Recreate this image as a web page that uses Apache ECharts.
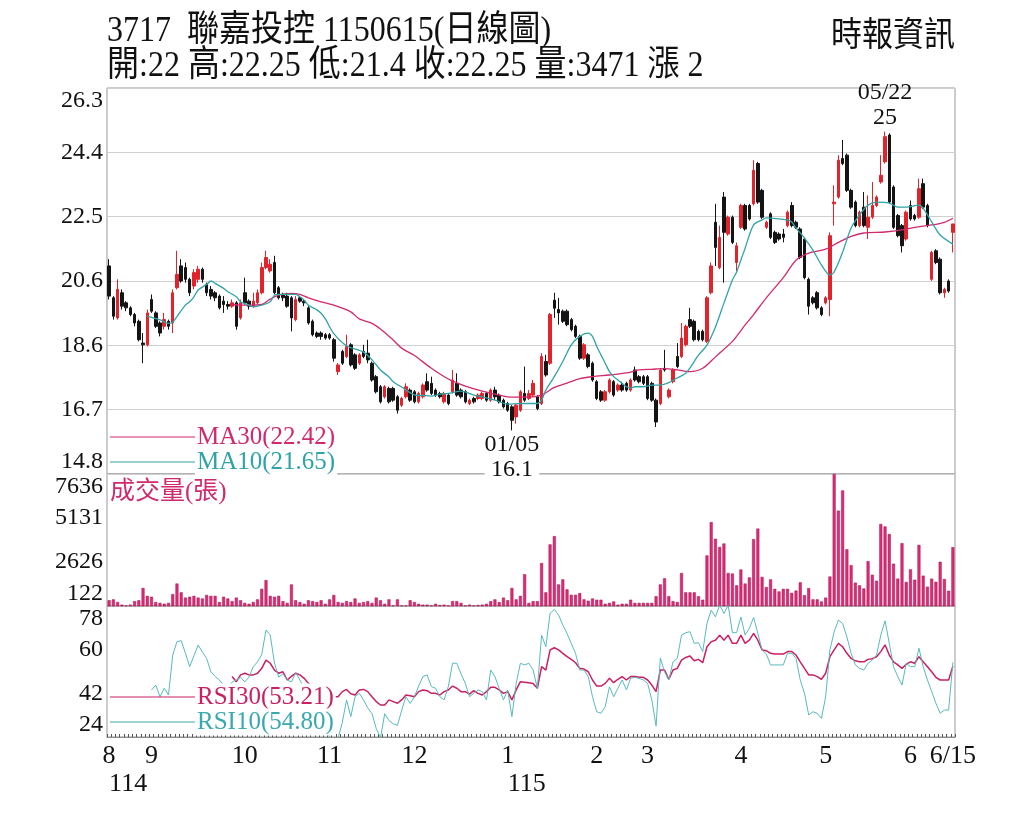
<!DOCTYPE html>
<html>
<head>
<meta charset="utf-8">
<script src="https://cdn.jsdelivr.net/npm/echarts@6.0.0/dist/echarts.min.js"></script>
<style>
  html, body { margin: 0; padding: 0; background: #fff; }
  #chart { width: 1024px; height: 819px; }
</style>
</head>
<body>
<div id="chart"></div>
<script>
// trading days shown, 114/08/18 .. 115/06/15
const dayCount = 200
const categories = Array.from({ length: dayCount }, (_, i) => String(i))

// [index, label] for the bottom axis
const monthLabels = [[0, '8'], [10, '9'], [32, '10'], [52, '11'], [72, '12'], [94, '1'],
  [115, '2'], [127, '3'], [149, '4'], [169, '5'], [189, '6'], [199, '6/15']]
const yearLabels = [[0, '114'], [94, '115']]

const priceTicks = ['14.8', '16.7', '18.6', '20.6', '22.5', '24.4', '26.3']
const volumeTicks = ['122', '2626', '5131', '7636']
const rsiTicks = ['24', '42', '60', '78']

// [open, close, low, high]
const ohlc = [
  [21.0, 20.1, 20.0, 21.2], [20.05, 19.5, 19.4, 20.1], [19.45, 20.3, 19.4, 20.6], [20.2, 19.8, 19.7, 20.3],
  [19.9, 19.75, 19.65, 19.95], [19.75, 19.55, 19.5, 19.8], [19.55, 19.3, 19.2, 19.6], [19.35, 18.8, 18.75, 19.4],
  [18.7, 18.65, 18.1, 19.0], [18.65, 19.6, 18.6, 19.7], [20.0, 19.65, 19.6, 20.15], [19.6, 19.2, 19.15, 19.65],
  [19.3, 19.0, 18.9, 19.35], [19.2, 19.4, 19.1, 19.6], [19.35, 19.2, 19.1, 19.4], [19.3, 20.2, 19.0, 20.3],
  [20.35, 20.75, 20.3, 21.45], [21.0, 20.55, 20.5, 21.2], [20.95, 20.6, 20.5, 21.1], [20.6, 20.2, 20.1, 20.65],
  [20.4, 20.8, 20.3, 20.9], [20.6, 20.9, 20.5, 21.0], [20.9, 20.6, 20.5, 20.95], [20.45, 20.2, 20.1, 20.5],
  [20.3, 20.1, 20.0, 20.4], [20.2, 20.05, 19.95, 20.25], [20.1, 19.75, 19.7, 20.15], [19.95, 19.85, 19.6, 20.1],
  [19.85, 19.8, 19.7, 19.95], [19.8, 19.9, 19.75, 20.0], [19.9, 19.2, 19.1, 19.95], [19.45, 19.9, 19.4, 20.0],
  [20.2, 19.9, 19.85, 20.65], [19.95, 19.8, 19.7, 20.0], [19.8, 19.95, 19.75, 20.2], [19.9, 20.2, 19.85, 20.3],
  [20.2, 20.95, 20.15, 21.1], [20.95, 21.25, 20.9, 21.45], [20.85, 21.05, 20.8, 21.2], [21.1, 20.2, 20.15, 21.3],
  [20.35, 20.05, 20.0, 20.4], [20.15, 20.05, 19.95, 20.2], [20.1, 19.8, 19.75, 20.2], [20.05, 19.45, 19.05, 20.1],
  [19.4, 20.0, 19.35, 20.1], [20.05, 19.95, 19.9, 20.1], [19.95, 19.9, 19.8, 20.0], [19.75, 19.3, 19.25, 19.8],
  [19.35, 18.95, 18.9, 19.4], [19.0, 18.9, 18.85, 19.05], [19.0, 18.9, 18.8, 19.05], [18.95, 18.85, 18.8, 19.0],
  [18.95, 18.85, 18.8, 19.0], [18.8, 18.25, 18.15, 18.85], [17.85, 18.05, 17.75, 18.1], [18.45, 18.1, 18.05, 18.5],
  [18.3, 18.6, 18.25, 18.95], [18.65, 18.05, 18.0, 18.7], [18.35, 17.95, 17.9, 18.4], [18.1, 18.35, 18.05, 18.4],
  [18.45, 18.3, 18.25, 18.65], [18.4, 18.2, 18.1, 18.8], [18.1, 17.6, 17.55, 18.15], [17.7, 17.25, 17.2, 17.75],
  [17.4, 16.95, 16.9, 17.45], [17.1, 17.4, 17.05, 17.45], [17.35, 16.95, 16.9, 17.4], [17.35, 17.0, 16.95, 17.4],
  [17.1, 16.7, 16.6, 17.15], [16.85, 17.05, 16.8, 17.1], [17.1, 17.4, 17.05, 17.5], [17.3, 17.0, 16.95, 17.35],
  [17.25, 16.95, 16.9, 17.3], [16.95, 17.2, 16.9, 17.25], [17.1, 17.45, 17.05, 17.5], [17.55, 17.3, 17.25, 17.8],
  [17.5, 17.2, 17.15, 17.7], [17.3, 17.15, 17.1, 17.35], [17.2, 17.1, 17.05, 17.25], [16.95, 17.2, 16.9, 17.25],
  [17.15, 16.9, 16.85, 17.2], [17.25, 17.6, 17.2, 17.9], [17.5, 17.15, 17.1, 17.8], [17.3, 17.1, 17.05, 17.35],
  [17.25, 16.95, 16.9, 17.3], [16.9, 17.0, 16.85, 17.05], [17.05, 16.95, 16.9, 17.1], [17.05, 17.15, 17.0, 17.2],
  [17.05, 17.2, 17.0, 17.25], [17.2, 17.0, 16.95, 17.25], [17.0, 17.3, 16.95, 17.35], [17.3, 17.1, 17.0, 17.4],
  [17.15, 16.95, 16.9, 17.2], [17.0, 16.8, 16.75, 17.05], [16.9, 16.7, 16.65, 16.95], [16.8, 16.4, 16.1, 16.85],
  [16.5, 16.85, 16.3, 16.9], [16.7, 17.25, 16.65, 17.3], [17.2, 17.0, 16.95, 18.0], [17.05, 17.2, 17.0, 17.3],
  [17.15, 17.5, 17.1, 17.6], [17.1, 16.75, 16.7, 17.15], [16.9, 18.3, 16.85, 18.4], [18.15, 17.75, 17.7, 18.35],
  [18.1, 19.55, 18.05, 19.6], [19.98, 19.74, 19.45, 20.2], [19.7, 19.6, 19.25, 20.05], [19.65, 19.35, 19.3, 19.7],
  [19.65, 19.25, 19.2, 19.7], [19.4, 19.1, 19.05, 19.45], [19.2, 18.9, 18.85, 19.25], [18.9, 18.25, 18.2, 18.95],
  [18.25, 18.65, 18.2, 18.7], [18.35, 18.0, 17.95, 18.4], [18.1, 17.6, 17.55, 18.15], [17.55, 17.05, 17.0, 17.6],
  [17.25, 17.0, 16.95, 17.3], [17.0, 17.25, 16.95, 17.3], [17.25, 17.6, 17.2, 17.65], [17.55, 17.15, 17.1, 17.6],
  [17.3, 17.45, 17.25, 17.5], [17.45, 17.3, 17.25, 17.55], [17.5, 17.3, 17.25, 17.55], [17.3, 17.6, 17.25, 17.65],
  [17.9, 17.6, 17.55, 18.0], [17.7, 17.55, 17.5, 17.75], [17.7, 17.5, 17.45, 17.75], [17.7, 17.05, 17.0, 17.75],
  [17.5, 17.0, 16.95, 17.55], [17.0, 16.35, 16.2, 17.05], [16.9, 17.9, 16.85, 17.95], [17.95, 17.9, 17.85, 18.5],
  [17.1, 17.3, 17.05, 17.35], [17.55, 17.9, 17.5, 17.95], [18.3, 18.0, 17.95, 18.7], [18.3, 18.85, 18.25, 19.3],
  [18.65, 19.2, 18.6, 19.25], [19.4, 19.2, 19.15, 19.75], [19.35, 18.8, 18.75, 19.4], [19.05, 18.8, 18.75, 19.1],
  [19.05, 18.8, 18.75, 19.1], [18.75, 20.05, 18.7, 20.1], [20.2, 21.0, 20.15, 21.1], [22.3, 21.55, 21.0, 22.85],
  [20.95, 21.85, 20.9, 22.2], [23.05, 22.0, 20.5, 23.2], [21.95, 22.45, 21.9, 22.5], [22.45, 21.7, 21.65, 22.5],
  [21.1, 21.6, 20.85, 21.7], [22.15, 22.8, 22.1, 22.85], [22.8, 22.1, 22.05, 22.85], [22.8, 22.4, 22.35, 22.85],
  [22.85, 23.85, 22.8, 24.15], [24.05, 22.9, 22.85, 24.1], [23.25, 22.45, 22.4, 23.3], [22.15, 22.3, 22.1, 22.35],
  [22.55, 21.85, 21.8, 22.6], [22.0, 21.7, 21.65, 22.05], [21.95, 21.8, 21.75, 22.0], [21.95, 21.85, 21.7, 22.1],
  [22.2, 22.6, 22.15, 22.65], [22.8, 22.2, 22.15, 22.9], [22.3, 22.15, 22.1, 22.35], [22.1, 21.25, 21.2, 22.15],
  [21.8, 20.65, 20.6, 21.85], [20.6, 19.8, 19.55, 20.65], [20.05, 19.9, 19.85, 20.1], [20.2, 19.75, 19.7, 20.25],
  [19.75, 19.55, 19.5, 19.8], [19.9, 20.05, 19.85, 20.1], [20.0, 21.9, 19.5, 22.0], [22.85, 22.9, 22.2, 23.4],
  [23.05, 24.15, 23.0, 24.3], [24.2, 24.05, 24.0, 24.75], [24.3, 23.25, 23.2, 24.35], [23.25, 22.75, 22.7, 23.3],
  [22.9, 22.2, 22.15, 22.95], [22.2, 22.6, 22.15, 22.65], [22.75, 22.2, 22.15, 23.2], [22.15, 22.45, 21.8, 23.1],
  [22.45, 22.8, 22.4, 23.5], [22.8, 23.05, 22.75, 23.1], [23.5, 23.7, 23.45, 24.3], [24.1, 24.85, 24.05, 25.0],
  [24.9, 22.9, 22.85, 24.95], [23.35, 22.15, 22.1, 23.4], [22.5, 21.9, 21.85, 22.55], [22.2, 21.6, 21.4, 22.25],
  [21.8, 22.6, 21.75, 22.65], [22.8, 22.4, 22.35, 22.95], [22.5, 22.4, 22.35, 22.55], [22.45, 23.3, 22.4, 23.6],
  [23.45, 22.75, 22.7, 23.6], [22.8, 22.2, 22.15, 22.85], [20.6, 21.4, 20.55, 21.45], [21.45, 21.1, 21.05, 21.5],
  [21.2, 20.2, 20.15, 21.25], [20.2, 20.3, 20.05, 20.35], [20.55, 20.25, 20.2, 20.6], [22.0, 22.25, 21.4, 22.25]
]

// 張
const volumes = [
  450, 500, 350, 200, 150, 200, 400, 450, 1150, 700,
  650, 350, 300, 250, 300, 800, 1400, 900, 600, 650,
  700, 600, 550, 750, 700, 700, 350, 650, 550, 400,
  600, 450, 300, 250, 350, 500, 1100, 1600, 700, 650,
  700, 400, 300, 1350, 450, 350, 250, 450, 400, 350,
  450, 250, 500, 750, 350, 300, 400, 350, 550, 300,
  350, 400, 300, 600, 450, 250, 500, 150, 500, 150,
  150, 450, 350, 250, 200, 200, 150, 250, 180, 200,
  150, 400, 400, 300, 150, 200, 150, 180, 200, 250,
  400, 500, 350, 600, 450, 1150, 500, 700, 1930, 300,
  400, 400, 2570, 900, 3630, 4100, 1350, 1640, 1070, 760,
  760, 860, 500, 420, 550, 480, 480, 250, 300, 380,
  200, 250, 250, 480, 300, 300, 300, 300, 300, 680,
  1350, 1700, 680, 400, 350, 2000, 900, 900, 900, 680,
  480, 3000, 4900, 3950, 3480, 3680, 2000, 1970, 1300, 2200,
  1400, 1750, 3930, 4530, 1780, 1200, 1640, 1100, 950, 1100,
  1100, 870, 1000, 1470, 740, 1140, 500, 500, 380, 600,
  1800, 7636, 5550, 6700, 3350, 2450, 1450, 1300, 1120, 2680,
  1900, 1560, 4790, 4650, 4220, 2530, 1680, 3700, 1490, 2210,
  1620, 3600, 1850, 1220, 1680, 1500, 2640, 1660, 990, 3471
]

// moving averages: [day index, value]
const ma10 = [
  [9, 19.5], [12, 19.39], [14, 19.29], [15, 19.32], [16, 19.49], [18, 19.83], [19, 19.93], [20, 20.08],
  [21, 20.28], [23, 20.45], [24, 20.55], [25, 20.48], [27, 20.33], [28, 20.23], [30, 20.08], [31, 19.93],
  [33, 19.83], [34, 19.78], [36, 19.83], [38, 19.93], [39, 20.13], [40, 20.15], [42, 20.15], [44, 20.15],
  [45, 20.08], [46, 19.98], [47, 19.83], [49, 19.69], [50, 19.59], [51, 19.42], [53, 18.98], [56, 18.62],
  [60, 18.43], [62, 18.2], [64, 17.9], [66, 17.69], [67, 17.55], [69, 17.39], [72, 17.16], [74, 17.14],
  [76, 17.12], [78, 17.18], [80, 17.2], [83, 17.27], [86, 17.15], [89, 17.07], [91, 17.0], [94, 16.88],
  [97, 16.9], [101, 16.9], [102, 17.0], [103, 17.3], [105, 17.7], [107, 18.15], [109, 18.65], [111, 18.9],
  [113, 19.0], [114, 18.9], [115, 18.6], [116, 18.35], [117, 18.1], [118, 17.85], [119, 17.7], [120, 17.6],
  [121, 17.5], [122, 17.4], [123, 17.36], [124, 17.4], [126, 17.4], [128, 17.45], [130, 17.45], [132, 17.52],
  [134, 17.66], [136, 17.8], [137, 17.96], [139, 18.34], [141, 18.64], [143, 19.18], [145, 19.89], [147, 20.58],
  [148, 20.82], [150, 21.53], [152, 22.22], [154, 22.37], [155, 22.43], [158, 22.4], [160, 22.37], [161, 22.31],
  [162, 22.13], [164, 21.83], [166, 21.47], [168, 21.03], [170, 20.73], [171, 20.82], [173, 21.41], [175, 22.13],
  [177, 22.52], [179, 22.81], [181, 22.9], [184, 22.87], [186, 22.75], [188, 22.75], [191, 22.81], [192, 22.72],
  [194, 22.31], [196, 21.92], [199, 21.65]
]
const ma30 = [
  [29, 19.85], [31, 19.83], [33, 19.83], [36, 19.85], [38, 20.01], [40, 20.13], [43, 20.18], [45, 20.15],
  [47, 20.05], [50, 19.93], [53, 19.83], [57, 19.63], [59, 19.42], [62, 19.29], [64, 19.12], [67, 18.79],
  [69, 18.55], [72, 18.33], [76, 17.95], [80, 17.63], [84, 17.42], [88, 17.27], [92, 17.15], [95, 17.09],
  [99, 17.09], [102, 17.15], [105, 17.38], [108, 17.51], [111, 17.64], [114, 17.7], [118, 17.75], [122, 17.81],
  [125, 17.9], [128, 17.92], [131, 17.94], [134, 17.9], [137, 17.85], [140, 17.95], [143, 18.29], [147, 18.75],
  [150, 19.24], [152, 19.55], [155, 20.05], [159, 20.65], [162, 21.17], [165, 21.38], [169, 21.5], [172, 21.7],
  [175, 21.88], [178, 21.98], [183, 22.01], [187, 22.07], [190, 22.15], [194, 22.22], [197, 22.3], [199, 22.42]
]

const rsi10 = [
  null, null, null, null, null, null, null, null, null, null,
  43.4, 45.4, 40.6, 44.1, 41.3, 57.8, 63.3, 63.7, 58.5, 53.0,
  57.5, 61.9, 59.0, 56.4, 50.9, 49.0, 47.5, 45.4, 44.0, 46.7,
  47.5, 48.6, 46.7, 48.7, 53.0, 55.0, 58.0, 68.1, 66.0, 54.5,
  48.7, 50.0, 47.5, 46.7, 50.5, 47.5, 44.0, 42.0, 38.0, 35.0,
  32.0, 28.0, 24.0, 23.0, 23.5, 30.0, 39.3, 32.4, 40.6, 42.0,
  39.3, 36.0, 33.6, 27.5, 23.6, 33.6, 30.8, 29.5, 28.8, 35.0,
  40.6, 37.8, 40.6, 45.0, 48.9, 49.6, 44.8, 44.1, 40.6, 39.3,
  44.8, 54.4, 54.4, 50.0, 46.1, 40.6, 42.0, 43.4, 42.7, 39.3,
  51.6, 48.9, 44.0, 39.3, 43.4, 32.4, 46.1, 54.4, 53.7, 54.4,
  51.6, 44.1, 66.0, 61.2, 75.0, 76.6, 74.3, 70.2, 66.7, 62.6,
  58.5, 51.6, 51.6, 48.9, 40.6, 34.4, 33.8, 36.5, 44.7, 40.6,
  44.1, 47.5, 43.4, 48.2, 48.6, 48.2, 47.5, 46.1, 39.3, 28.5,
  56.6, 50.9, 47.5, 55.0, 56.4, 66.0, 67.0, 67.4, 62.6, 62.9,
  59.2, 70.8, 76.3, 73.5, 78.4, 74.9, 78.4, 67.0, 67.0, 73.5,
  66.0, 68.8, 73.3, 66.7, 59.9, 58.2, 53.7, 53.7, 53.7, 53.7,
  58.5, 58.5, 56.4, 47.5, 42.0, 33.1, 34.4, 33.8, 31.7, 40.6,
  59.9, 67.4, 72.2, 70.8, 65.3, 58.5, 53.7, 52.3, 51.6, 54.4,
  55.7, 57.8, 66.0, 71.9, 62.6, 53.0, 48.9, 45.4, 54.4, 53.0,
  53.0, 60.6, 53.0, 47.5, 42.7, 37.9, 33.8, 35.1, 35.1, 54.8
]
const rsi30 = [
  null, null, null, null, null, null, null, null, null, null,
  null, null, null, null, null, null, null, null, null, null,
  null, null, null, null, null, null, null, null, null, 48.9,
  46.8, 49.6, 50.3, 49.6, 49.6, 50.3, 52.3, 55.7, 54.4, 51.6,
  50.3, 50.9, 47.5, 49.0, 50.3, 49.6, 48.2, 46.1, 45.0, 44.0,
  43.0, 42.0, 41.0, 40.6, 40.6, 42.7, 43.6, 41.8, 41.3, 43.4,
  43.6, 42.7, 40.6, 38.6, 37.2, 37.2, 39.3, 38.6, 37.9, 39.3,
  41.3, 41.0, 40.6, 42.7, 43.4, 43.1, 42.0, 42.0, 41.3, 42.7,
  43.4, 45.0, 44.1, 42.7, 42.7, 41.7, 43.1, 42.0, 41.3, 42.7,
  44.5, 44.5, 43.4, 42.0, 42.7, 39.3, 43.4, 46.8, 46.6, 46.4,
  46.1, 44.1, 53.0, 51.6, 59.9, 60.8, 59.9, 58.5, 57.1, 56.0,
  54.6, 52.3, 52.0, 50.9, 47.5, 45.0, 45.0, 46.1, 48.2, 46.4,
  47.8, 48.9, 47.5, 48.9, 48.9, 48.6, 48.6, 47.5, 45.4, 42.7,
  51.6, 51.6, 47.8, 51.6, 52.3, 55.7, 56.8, 57.4, 55.4, 56.0,
  54.6, 61.2, 63.3, 63.9, 66.0, 63.9, 66.0, 62.6, 62.6, 66.0,
  62.6, 63.9, 66.7, 63.9, 59.9, 59.6, 58.5, 58.2, 58.2, 58.2,
  59.2, 59.2, 57.8, 55.0, 52.3, 49.6, 49.6, 48.9, 47.8, 50.3,
  57.1, 59.9, 62.6, 61.2, 58.5, 56.4, 55.4, 55.0, 55.0, 56.0,
  56.3, 57.1, 59.2, 62.0, 57.8, 55.0, 53.7, 52.3, 54.0, 55.0,
  54.4, 57.1, 55.0, 53.0, 50.9, 48.6, 47.5, 47.5, 47.5, 53.21
]

// dates for the high / low markers, in markPoint order
const markDates = ['05/22', '01/05']

const serif = "'Liberation Serif', 'Noto Sans CJK TC', serif"
const red = '#e3232c'
const black = '#141414'
const pink = '#d1296d'
const teal = '#2fa3a7'
const grey = '#8c8c8c'

const monthMap = new Map(monthLabels)
const yearMap = new Map(yearLabels)

function tickAxis(ticks, gridIndex, splitLine) {
  const min = +ticks[0]
  const max = +ticks[ticks.length - 1]
  const step = (max - min) / (ticks.length - 1)
  const txt = { fontSize: 24, fontFamily: serif, color: '#111' }
  return {
    type: 'value',
    gridIndex,
    min,
    max,
    interval: step,
    axisLine: { show: false },
    axisTick: { show: false },
    splitLine: { show: splitLine, lineStyle: { color: '#cfcfcf' } },
    axisLabel: {
      ...txt,
      margin: 4,
      formatter: v => {
        const k = Math.round((v - min) / step)
        if (k === ticks.length - 1) return '{hi|' + ticks[k] + '}'
        if (k === 0) return '{lo|' + ticks[k] + '}'
        return ticks[k]
      },
      rich: {
        hi: { ...txt, padding: [26, 0, 0, 0] },
        lo: { ...txt, padding: [0, 0, 24, 0] }
      }
    }
  }
}

function plainX(gridIndex) {
  return {
    type: 'category',
    gridIndex,
    data: categories,
    axisLine: { show: false },
    axisTick: { show: false },
    axisLabel: { show: false }
  }
}

const last = ohlc[ohlc.length - 1]
const prevClose = ohlc[ohlc.length - 2][1]
const change = +(last[1] - prevClose).toFixed(2)
const infoLine = '開:' + last[0] + ' 高:' + last[3] + ' 低:' + last[2] + ' 收:' + last[1] +
  ' 量:' + volumes[volumes.length - 1] + ' 漲 ' + change

function legend(y, color, text) {
  return [
    { type: 'line', z: 50, shape: { x1: 110, y1: y, x2: 195, y2: y }, style: { stroke: color, lineWidth: 1 } },
    {
      type: 'text', z: 51, x: 195, y,
      style: { text, fontSize: 25, fontFamily: serif, fill: color, verticalAlign: 'middle', backgroundColor: '#fff', padding: [1, 2] }
    }
  ]
}

const chart = echarts.init(document.getElementById('chart'))

chart.setOption({
  animation: false,
  backgroundColor: '#fff',
  grid: [
    { left: 107, right: 69, top: 88, height: 386, show: true, borderColor: '#999' },
    { left: 107, right: 69, top: 474, height: 132, show: true, borderColor: '#999' },
    { left: 107, right: 69, top: 606, height: 131, show: true, borderColor: '#999' }
  ],
  xAxis: [
    plainX(0),
    plainX(1),
    {
      type: 'category',
      gridIndex: 2,
      data: categories,
      axisLine: { lineStyle: { color: grey } },
      axisTick: { show: true, interval: 0, inside: true, length: 3, lineStyle: { color: '#555' } },
      axisLabel: {
        interval: i => monthMap.has(i),
        formatter: (v, i) => monthMap.get(i),
        fontSize: 26, fontFamily: serif, color: '#111', margin: 6
      }
    },
    {
      type: 'category',
      gridIndex: 2,
      position: 'bottom',
      data: categories,
      axisLine: { show: false },
      axisTick: { show: false },
      axisLabel: {
        interval: i => yearMap.has(i),
        formatter: (v, i) => yearMap.get(i),
        align: 'left',
        fontSize: 26, fontFamily: serif, color: '#111', margin: 34
      }
    }
  ],
  yAxis: [
    tickAxis(priceTicks, 0, true),
    tickAxis(volumeTicks, 1, false),
    tickAxis(rsiTicks, 2, false)
  ],
  series: [
    {
      type: 'candlestick',
      xAxisIndex: 0,
      yAxisIndex: 0,
      data: ohlc,
      barWidth: 3,
      itemStyle: { color: red, color0: black, borderColor: red, borderColor0: black, borderWidth: 1 },
      markPoint: {
        symbol: 'rect',
        symbolSize: 1,
        itemStyle: { color: 'rgba(0,0,0,0)' },
        label: {
          fontSize: 24, fontFamily: serif, color: '#111', lineHeight: 25,
          formatter: p => markDates[p.dataIndex] + '\n' + p.value
        },
        data: [
          { type: 'max', valueDim: 'highest', label: { position: 'top', distance: 1 } },
          { type: 'min', valueDim: 'lowest', label: { position: 'bottom', distance: 1, backgroundColor: '#fff' } }
        ]
      }
    },
    {
      type: 'line', xAxisIndex: 0, yAxisIndex: 0, data: ma30,
      symbol: 'none', smooth: 0.3, lineStyle: { color: pink, width: 1.3 }
    },
    {
      type: 'line', xAxisIndex: 0, yAxisIndex: 0, data: ma10,
      symbol: 'none', smooth: 0.3, lineStyle: { color: teal, width: 1.3 }
    },
    {
      type: 'bar', xAxisIndex: 1, yAxisIndex: 1, data: volumes,
      barWidth: 3, itemStyle: { color: '#df2a78', borderColor: '#a0144e', borderWidth: 0.5 }
    },
    {
      type: 'line', xAxisIndex: 2, yAxisIndex: 2, data: rsi30,
      symbol: 'none', lineStyle: { color: '#c91f63', width: 1.5 }
    },
    {
      type: 'line', xAxisIndex: 2, yAxisIndex: 2, data: rsi10,
      symbol: 'none', lineStyle: { color: '#5ab9bd', width: 1 }
    }
  ],
  graphic: [
    {
      type: 'text', x: 107, y: 31, scaleY: 1.15,
      style: { text: '3717  聯嘉投控 1150615(日線圖)', fontSize: 32, fontFamily: serif, fill: '#111', verticalAlign: 'middle' }
    },
    {
      type: 'text', x: 107, y: 66, scaleY: 1.15,
      style: { text: infoLine, fontSize: 32, fontFamily: serif, fill: '#111', verticalAlign: 'middle' }
    },
    {
      type: 'text', x: 955, y: 37, scaleY: 1.1,
      style: { text: '時報資訊', fontSize: 31, fontFamily: serif, fill: '#111', align: 'right', verticalAlign: 'middle' }
    },
    ...legend(437, pink, 'MA30(' + ma30[ma30.length - 1][1].toFixed(2) + ')'),
    ...legend(462, teal, 'MA10(' + ma10[ma10.length - 1][1].toFixed(2) + ')'),
    {
      type: 'text', z: 51, x: 110, y: 492,
      style: { text: '成交量(張)', fontSize: 25, fontFamily: serif, fill: pink, verticalAlign: 'middle' }
    },
    ...legend(697, '#c91f63', 'RSI30(' + rsi30[rsi30.length - 1].toFixed(2) + ')'),
    ...legend(722, '#3aa9ae', 'RSI10(' + rsi10[rsi10.length - 1].toFixed(2) + ')')
  ]
})

window.addEventListener('resize', () => chart.resize())
</script>
</body>
</html>
